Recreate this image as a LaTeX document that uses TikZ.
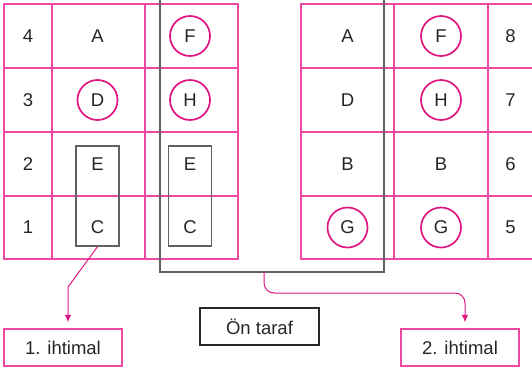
\documentclass[tikz,border=0pt]{standalone}
\usepackage{fontspec}
\setmainfont{Liberation Sans}
\usetikzlibrary{arrows.meta}
\definecolor{gridpink}{RGB}{238,72,162}
\definecolor{ringpink}{RGB}{224,22,128}
\definecolor{framegray}{RGB}{98,98,98}
\definecolor{boxdark}{RGB}{40,40,40}
\begin{document}
\begin{tikzpicture}[x=1pt,y=-1pt,
  font=\fontsize{18.5}{22}\selectfont,
  gridline/.style={draw=gridpink,line width=1.4pt},
  cell/.style={inner sep=0pt,text=black!85},
  ring/.style={circle,draw=ringpink,line width=1.7pt,minimum size=40pt,inner sep=0pt,text=black!85},
  pairbox/.style={draw=framegray,line width=1.5pt,minimum width=43pt,minimum height=100pt,inner sep=0pt},
  frameline/.style={draw=framegray,line width=1.5pt},
  label/.style={draw=gridpink,line width=1.3pt,minimum width=118pt,minimum height=37pt,inner sep=0pt,text=black!85},
  sidebox/.style={draw=boxdark,line width=1.2pt,minimum width=119pt,minimum height=37pt,inner sep=0pt,text=black!85},
  conn/.style={draw=ringpink,line width=1pt,-{Latex[length=7.5pt,width=6.5pt]},shorten >=6pt}
]
\useasboundingbox (0,0) rectangle (532,370);

% left table
\draw[gridline] (4,4) rectangle (238,259);
\foreach \x in {52,145} \draw[gridline] (\x,4) -- (\x,259);
\foreach \y in {68,132,196} \draw[gridline] (4,\y) -- (238,\y);

% right table (runs past the right edge)
\draw[gridline] (301,4) rectangle (535,259);
\foreach \x in {394,488} \draw[gridline] (\x,4) -- (\x,259);
\foreach \y in {68,132,196} \draw[gridline] (301,\y) -- (535,\y);

% grouped E/C cells
\node[pairbox] (ecL) at (97.5,196) {};
\node[pairbox] (ecR) at (190,196) {};

% front frame
\draw[frameline] (160,-4) -- (160,272) -- (384,272) -- (384,-4);
\coordinate (fr) at (264,272);

% left table contents
\node[cell] (n4) at (28,36) {4};
\node[cell] (n3) at (28,100) {3};
\node[cell] (n2) at (28,164) {2};
\node[cell] (n1) at (28,227.5) {1};
\node[cell] (lA) at (97.5,36) {A};
\node[ring] (lD) at (97.5,100) {D};
\node[cell] (lE) at (97.5,164) {E};
\node[cell] (lC) at (97.5,227.5) {C};
\node[ring] (mF) at (190,36) {F};
\node[ring] (mH) at (190,100) {H};
\node[cell] (mE) at (190,164) {E};
\node[cell] (mC) at (190,227.5) {C};

% right table contents
\node[cell] (rA) at (347.5,36) {A};
\node[cell] (rD) at (347.5,100) {D};
\node[cell] (rB) at (347.5,164) {B};
\node[ring] (rG) at (347.5,227.5) {G};
\node[ring] (sF) at (441,36) {F};
\node[ring] (sH) at (441,100) {H};
\node[cell] (sB) at (441,164) {B};
\node[ring] (sG) at (441,227.5) {G};
\node[cell] (n8) at (510.5,36) {8};
\node[cell] (n7) at (510.5,100) {7};
\node[cell] (n6) at (510.5,164) {6};
\node[cell] (n5) at (510.5,227.5) {5};

% labels
\node[label] (lab1) at (63,347.5) {1. ihtimal};
\node[sidebox] (front) at (259.5,326.5) {Ön taraf};
\node[label] (lab2) at (460,347.5) {2. ihtimal};

% connectors
\coordinate (k1) at (68,287);
\draw[conn] (ecL.south) -- (k1) -- (k1 |- lab1.north);
\coordinate (k2) at (465,293);
\draw[conn,rounded corners=10pt] (fr) |- (k2) -- (k2 |- lab2.north);
\end{tikzpicture}
\end{document}
